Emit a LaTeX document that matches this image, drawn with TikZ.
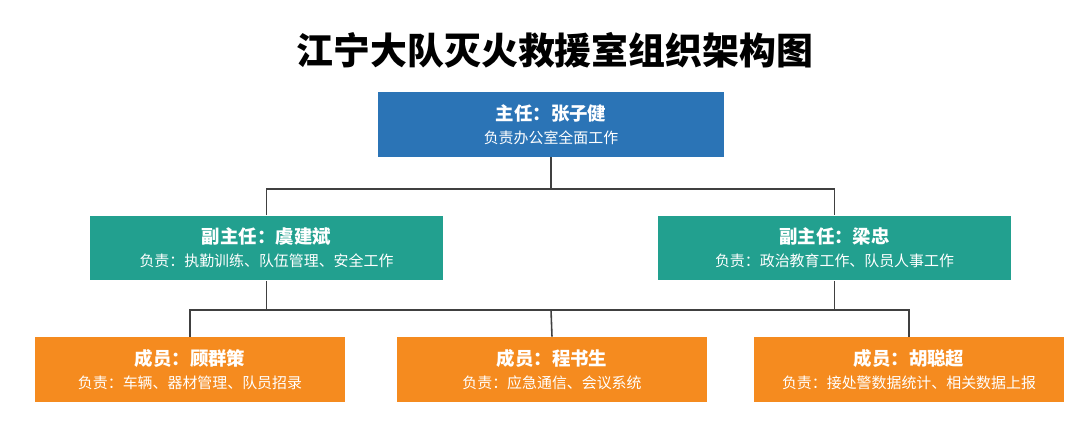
\documentclass[tikz,border=0pt]{standalone}
\usepackage{fontspec}
\setmainfont{Noto Sans CJK SC}
\usetikzlibrary{positioning}
\definecolor{chiefblue}{HTML}{2B74B6}
\definecolor{deputyteal}{HTML}{22A08F}
\definecolor{memberorange}{HTML}{F58B1F}
\tikzset{
  box/.style = {rectangle, inner sep=0pt, align=center, text=white,
                minimum height=1.3cm, font=\fontsize{8.5}{13}\selectfont},
  chief/.style = {box, fill=chiefblue, minimum width=6.92cm},
  deputy/.style = {box, fill=deputyteal, minimum width=7.06cm},
  member/.style = {box, fill=memberorange, minimum width=6.2cm},
  link/.style = {draw=black!75, line width=0.9pt}
}
\newcommand{\who}[1]{{\bfseries\fontsize{10.5}{14}\selectfont #1}}
\begin{document}
\begin{tikzpicture}[x=0.02cm, y=-0.02cm]
    \useasboundingbox (0,0) rectangle (1080,428);

    \node[font=\bfseries\fontsize{21}{25}\selectfont] (title) at (555,50) {江宁大队灭火救援室组织架构图};

    \node[chief] (zhang) at (551,124.5) {\who{主任：张子健}\\负责办公室全面工作};

    \node[deputy] (yu) at (266.5,248) {\who{副主任：虞建斌}\\负责：执勤训练、队伍管理、安全工作};
    \node[deputy] (liang) at (834.5,248) {\who{副主任：梁忠}\\负责：政治教育工作、队员人事工作};

    \node[member] (gu) at (190,369.5) {\who{成员：顾群策}\\负责：车辆、器材管理、队员招录};
    \node[member] (cheng) at (552,369.5) {\who{成员：程书生}\\负责：应急通信、会议系统};
    \node[member] (hu) at (909,369.5) {\who{成员：胡聪超}\\负责：接处警数据统计、相关数据上报};

    % connectors
    \coordinate (top bus) at (551,189);
    \coordinate (low bus) at (551,310);
    \draw[link] (zhang.south) -- (top bus);
    \draw[link] (yu.north) |- (top bus) -| (liang.north);
    \draw[link] (yu.south) |- (low bus);
    \draw[link] (liang.south) |- (low bus);
    \draw[link] (gu.north) |- (low bus) -| (hu.north);
    \draw[link] (low bus) -- (cheng.north);
\end{tikzpicture}
\end{document}
